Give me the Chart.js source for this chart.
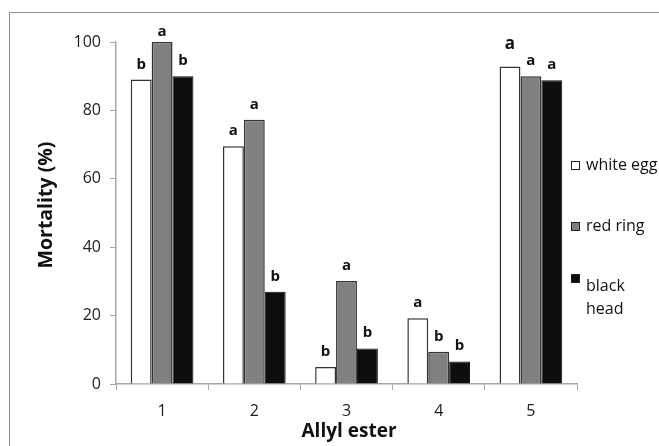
<!DOCTYPE html>
<html>
<head>
<meta charset="utf-8">
<script src="https://cdn.jsdelivr.net/npm/chart.js@4"></script>
<style>
  html, body { margin: 0; padding: 0; background: #fff; }
  #wrap { width: 659px; height: 446px; position: relative; }
</style>
</head>
<body>
<div id="wrap"><canvas id="chart" width="659" height="446"></canvas></div>
<script>
// data
const categories = ["1", "2", "3", "4", "5"];
const whiteEgg = [89, 69.5, 5, 19.2, 92.8];
const redRing = [100, 77.3, 30.1, 9.4, 90];
const blackHead = [90, 27, 10.4, 6.6, 88.8];
const whiteLetters = ["b", "a", "b", "a", "a"];
const redLetters = ["a", "a", "a", "b", "a"];
const blackLetters = ["b", "b", "b", "b", "a"];
const yTicks = [0, 20, 40, 60, 80, 100];

const FONT = "'Open Sans', 'Noto Sans', sans-serif";
const letterSets = [whiteLetters, redLetters, blackLetters];

// letters above bars + axis titles + frame + legend
const extras = {
  id: "extras",
  afterDatasetsDraw(chart) {
    const ctx = chart.ctx;
    ctx.save();
    ctx.fillStyle = "#111";
    ctx.textAlign = "center";
    ctx.textBaseline = "alphabetic";
    chart.data.datasets.forEach((ds, i) => {
      chart.getDatasetMeta(i).data.forEach((bar, j) => {
        // the first letter over group 5 is set a little larger in the original
        const big = i === 0 && j === 4;
        ctx.font = "bold " + (big ? 17 : 15) + "px " + FONT;
        const y = Math.max(bar.y - (big ? 18 : 11), 36);
        ctx.fillText(letterSets[i][j], bar.x, y);
      });
    });
    ctx.restore();
  },
  afterDraw(chart) {
    const ctx = chart.ctx;
    ctx.save();
    // outer frame (top and left visible)
    ctx.strokeStyle = "#8c8c8c";
    ctx.lineWidth = 1;
    ctx.beginPath();
    ctx.moveTo(9.5, 450);
    ctx.lineTo(9.5, 12.5);
    ctx.lineTo(665, 12.5);
    ctx.stroke();

    // axis titles
    ctx.fillStyle = "#111";
    ctx.font = "bold 19px " + FONT;
    ctx.textAlign = "center";
    ctx.textBaseline = "middle";
    ctx.fillText("Allyl ester", 349, 432);
    ctx.translate(46, 205);
    ctx.rotate(-Math.PI / 2);
    ctx.font = "bold 19.5px " + FONT;
    ctx.fillText("Mortality (%)", 0, 0);
    ctx.restore();

    // legend
    ctx.save();
    ctx.font = "16px " + FONT;
    ctx.textAlign = "left";
    ctx.textBaseline = "middle";
    const items = [
      { lines: ["white egg"], y: 165.5 },
      { lines: ["red ring"], y: 226.5 },
      { lines: ["black", "head"], y: 278.5 }
    ];
    chart.data.datasets.forEach((ds, i) => {
      const it = items[i];
      ctx.fillStyle = ds.backgroundColor;
      ctx.strokeStyle = "#222";
      ctx.lineWidth = 1;
      ctx.fillRect(571.5, it.y - 4, 8, 8);
      ctx.strokeRect(571.5, it.y - 4, 8, 8);
      ctx.fillStyle = "#111";
      it.lines.forEach((t, k) => {
        const ty = it.lines.length > 1 ? it.y + 8 + k * 23 : it.y;
        ctx.fillText(t, 586, ty);
      });
    });
    ctx.restore();
  }
};

new Chart(document.getElementById("chart"), {
  type: "bar",
  data: {
    labels: categories,
    datasets: [
      { label: "white egg", data: whiteEgg, backgroundColor: "#ffffff", borderColor: "#333333", borderWidth: 1.5 },
      { label: "red ring", data: redRing, backgroundColor: "#808080", borderColor: "#333333", borderWidth: 1.5 },
      { label: "black head", data: blackHead, backgroundColor: "#0d0d0d", borderColor: "#0d0d0d", borderWidth: 1 }
    ]
  },
  options: {
    responsive: false,
    animation: false,
    layout: { padding: { top: 42, right: 82, left: 0, bottom: 0 } },
    datasets: {
      bar: { categoryPercentage: 0.68, barPercentage: 1 }
    },
    plugins: {
      legend: { display: false },
      tooltip: { enabled: false }
    },
    scales: {
      x: {
        offset: true,
        grid: { offset: true, drawOnChartArea: false, color: "#a6a6a6", tickLength: 6 },
        border: { color: "#a6a6a6", width: 1.5 },
        ticks: { color: "#222", font: { family: FONT, size: 16 }, padding: 12 },
        afterFit(scale) { scale.height = 62; }
      },
      y: {
        min: 0,
        max: 100,
        afterBuildTicks(scale) { scale.ticks = yTicks.map(v => ({ value: v })); },
        grid: { drawOnChartArea: false, color: "#a6a6a6", tickLength: 6 },
        border: { color: "#a6a6a6", width: 1.5 },
        ticks: { color: "#222", font: { family: FONT, size: 16 }, padding: 9 },
        afterFit(scale) { scale.width = 116; }
      }
    }
  },
  plugins: [extras]
});
</script>
</body>
</html>
